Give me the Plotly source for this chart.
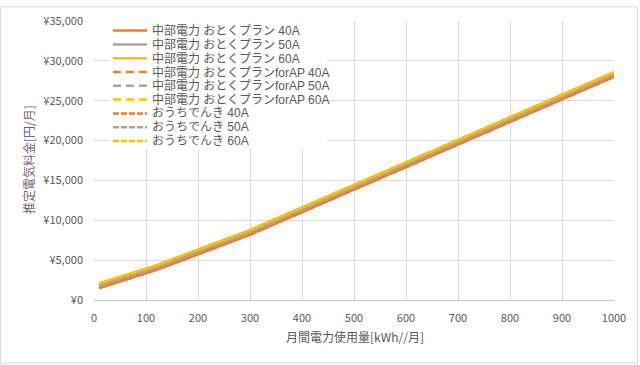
import plotly.graph_objects as go

# ---- data ----
usage_kwh = [10, 50, 100, 120, 150, 200, 250, 300, 350, 400, 500, 600, 700, 800, 900, 1000]

otoku_40a = [1510, 2330, 3360, 3780, 4520, 5750, 6970, 8200, 9620, 11030, 13860, 16690, 19520, 22350, 25180, 28010]
otoku_50a = [1800, 2620, 3650, 4070, 4810, 6040, 7260, 8490, 9910, 11320, 14150, 16980, 19810, 22640, 25470, 28300]
otoku_60a = [2080, 2900, 3930, 4350, 5090, 6320, 7540, 8770, 10190, 11600, 14430, 17260, 20090, 22920, 25750, 28580]

forap_40a = [1510, 2330, 3360, 3780, 4520, 5750, 6970, 8200, 9620, 11030, 13860, 16690, 19520, 22350, 25180, 28010]
forap_50a = [1800, 2620, 3650, 4070, 4810, 6040, 7260, 8490, 9910, 11320, 14150, 16980, 19810, 22640, 25470, 28300]
forap_60a = [2080, 2900, 3930, 4350, 5090, 6320, 7540, 8770, 10190, 11600, 14430, 17260, 20090, 22920, 25750, 28580]

ouchi_40a = [1510, 2330, 3360, 3780, 4520, 5750, 6970, 8200, 9620, 11030, 13860, 16690, 19520, 22350, 25180, 28010]
ouchi_50a = [1800, 2620, 3650, 4070, 4810, 6040, 7260, 8490, 9910, 11320, 14150, 16980, 19810, 22640, 25470, 28300]
ouchi_60a = [2080, 2900, 3930, 4350, 5090, 6320, 7540, 8770, 10190, 11600, 14430, 17260, 20090, 22920, 25750, 28580]

series_names = [
    "中部電力 おとくプラン 40A", "中部電力 おとくプラン 50A", "中部電力 おとくプラン 60A",
    "中部電力 おとくプランforAP 40A", "中部電力 おとくプランforAP 50A", "中部電力 おとくプランforAP 60A",
    "おうちでんき 40A", "おうちでんき 50A", "おうちでんき 60A",
]
series_values = [otoku_40a, otoku_50a, otoku_60a, forap_40a, forap_50a, forap_60a, ouchi_40a, ouchi_50a, ouchi_60a]

x_ticks = [0, 100, 200, 300, 400, 500, 600, 700, 800, 900, 1000]
y_ticks = [0, 5000, 10000, 15000, 20000, 25000, 30000, 35000]
y_tick_labels = ["¥0", "¥5,000", "¥10,000", "¥15,000", "¥20,000", "¥25,000", "¥30,000", "¥35,000"]

x_title = "月間電力使用量[kWh//月]"
y_title = "推定電気料金[円/月]"

# ---- styles ----
COLORS = ["#ED7D31", "#A5A5A5", "#FFC000"]
DASHES = ["solid", "8px,5px", "6px,2px"]
FONT = "Noto Sans CJK JP, Noto Sans, sans-serif"
LEG_FAMILY = "Liberation Sans, Noto Sans CJK JP, sans-serif"
TXT = "#595959"

W, H = 640, 365
L, R, T, B = 94, 26, 15, 65
PW, PH = W - L - R, H - T - B


def px_x(px):
    return (px - L) / PW


def px_y(py):
    return (H - B - py) / PH


fig = go.Figure()
for i, (name, vals) in enumerate(zip(series_names, series_values)):
    fig.add_trace(go.Scatter(
        x=usage_kwh, y=vals, mode="lines", name=name, showlegend=False,
        line=dict(color=COLORS[i % 3], width=2.5, dash=DASHES[i // 3]),
        hoverinfo="skip",
    ))

shapes = []
annotations = []

# chart border
shapes.append(dict(type="rect", xref="paper", yref="paper",
                   x0=px_x(0.5), x1=px_x(637.5), y0=px_y(364.5), y1=px_y(0.5),
                   line=dict(color="#d9d9d9", width=1), fillcolor="rgba(0,0,0,0)", layer="above"))

# manual legend: white box, line samples, texts
row0, row_gap = 24.8, 14.1
shapes.append(dict(type="rect", xref="paper", yref="paper",
                   x0=px_x(108), x1=px_x(327), y0=px_y(146), y1=px_y(16.5),
                   line=dict(width=0), fillcolor="white", layer="above"))
for i, name in enumerate(series_names):
    yy = px_y(row0 + i * row_gap)
    shapes.append(dict(type="line", xref="paper", yref="paper",
                       x0=px_x(113), x1=px_x(147), y0=yy, y1=yy,
                       line=dict(color=COLORS[i % 3], width=2.5, dash=DASHES[i // 3]), layer="above"))
    annotations.append(dict(xref="paper", yref="paper", x=px_x(150), y=yy,
                            text=name, showarrow=False, xanchor="left", yanchor="middle",
                            font=dict(family=LEG_FAMILY, size=12, color=TXT)))

# axis titles
annotations.append(dict(xref="paper", yref="paper", x=px_x(354.5), y=px_y(337),
                        text=x_title, showarrow=False, xanchor="center", yanchor="middle",
                        font=dict(family=FONT, size=12, color=TXT)))
annotations.append(dict(xref="paper", yref="paper", x=px_x(28), y=px_y(157),
                        text=y_title, showarrow=False, xanchor="center", yanchor="middle",
                        textangle=-90, font=dict(family=FONT, size=12, color="#75607c")))

fig.update_layout(
    width=W, height=H,
    margin=dict(l=L, r=R, t=T, b=B, pad=0),
    paper_bgcolor="white", plot_bgcolor="white",
    showlegend=False,
    shapes=shapes, annotations=annotations,
    font=dict(family=FONT, color=TXT, size=11),
)
fig.update_xaxes(
    range=[0, 1000], tickvals=x_ticks, ticktext=[str(v) for v in x_ticks],
    showgrid=True, gridcolor="#d9d9d9", gridwidth=1,
    showline=True, linecolor="#c6c6c6", linewidth=1, mirror=False,
    zeroline=False, ticks="", ticklabelstandoff=8,
    tickfont=dict(family=FONT, size=11, color=TXT),
)
fig.update_yaxes(
    range=[0, 35000], tickvals=y_ticks, ticktext=y_tick_labels,
    showgrid=True, gridcolor="#d9d9d9", gridwidth=1,
    showline=False, zeroline=False, ticks="", ticklabelstandoff=10,
    tickfont=dict(family=FONT, size=11, color=TXT),
)

fig.write_html("out.html")
